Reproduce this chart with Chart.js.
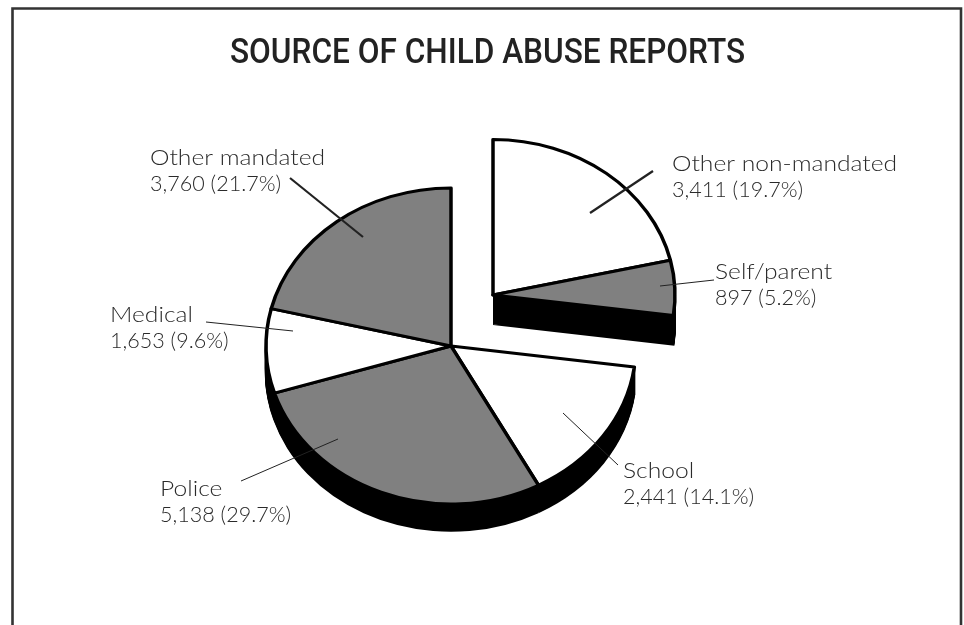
<!DOCTYPE html>
<html>
<head>
<meta charset="utf-8">
<title>Source of child abuse reports</title>
<script src="https://cdn.jsdelivr.net/npm/chart.js@4"></script>
<style>
  html, body { margin: 0; padding: 0; background: #fff; }
  canvas { display: block; }
</style>
</head>
<body>
<canvas id="chart" width="964" height="625"></canvas>
<script>
// Report counts by source, clockwise from twelve o'clock.
const sources = ['Other non-mandated', 'Self/parent', 'School', 'Police', 'Medical', 'Other mandated'];
const reports = [3411, 897, 2441, 5138, 1653, 3760];
const percentLabels = ['19.7%', '5.2%', '14.1%', '29.7%', '9.6%', '21.7%'];
const sliceColors = ['#ffffff', '#808080', '#ffffff', '#808080', '#ffffff', '#808080'];
const titleText = 'SOURCE OF CHILD ABUSE REPORTS';

// Tilted-disc geometry.
const disc = { cx: 451, cy: 346, radius: 185, squash: 0.854, depth: 27 };
const pulled = { count: 2, dx: 42, dy: -51, radius: 182, depth: 30 };

// Callout placement, in the same order as the slices.
const callouts = [
  { x: 672, y: 171, from: [590, 213], to: [653, 171], width: 2.2 },
  { x: 715, y: 279, from: [660, 286], to: [714, 280], width: 1 },
  { x: 623, y: 478, from: [563, 413], to: [618, 465], width: 1 },
  { x: 160, y: 496, from: [338, 439], to: [241, 481], width: 1 },
  { x: 110, y: 322, from: [293, 331], to: [206, 322], width: 1 },
  { x: 150, y: 165, from: [363, 237], to: [290, 178], width: 2.2 }
];
const labelFont = '300 22px Lato';
const nameStretch = 1.12;
const countStretch = 0.98;
const labelColor = '#2a2a2a';
const lineGap = 26;
const titleBox = { left: 230, right: 745, baseline: 63, font: '500 35px Roboto', color: '#222222' };

// Foreshortening of the tilted disc: slices bunch up towards the far side.
function projectAngle(angle) {
  const t = angle + Math.PI / 2;
  const deg = Math.PI / 180;
  return angle + 2.5 * deg * Math.sin(t) + 5.5 * deg * (1 - Math.cos(t));
}

function drawStretched(ctx, text, x, y, stretch) {
  ctx.save();
  ctx.translate(x, y);
  ctx.scale(stretch, 1);
  ctx.fillText(text, 0, 0);
  ctx.restore();
}

const tiltedPie = {
  id: 'tiltedPie',
  beforeDraw(chart) {
    // Page frame, open along the bottom edge.
    const { ctx, width, height } = chart;
    ctx.save();
    ctx.fillStyle = '#ffffff';
    ctx.fillRect(0, 0, width, height);
    ctx.strokeStyle = '#333333';
    ctx.lineWidth = 2.6;
    ctx.beginPath();
    ctx.moveTo(12.5, height);
    ctx.lineTo(12.5, 8.5);
    ctx.lineTo(961, 8.5);
    ctx.lineTo(961, height);
    ctx.stroke();
    // Title, condensed to its measure.
    ctx.font = titleBox.font;
    ctx.fillStyle = titleBox.color;
    ctx.textBaseline = 'alphabetic';
    const natural = ctx.measureText(titleText).width;
    drawStretched(ctx, titleText, titleBox.left, titleBox.baseline, (titleBox.right - titleBox.left) / natural);
    ctx.restore();
  },
  afterDatasetsUpdate(chart) {
    // Place the disc and pull the first two slices away as one wedge.
    chart.getDatasetMeta(0).data.forEach((arc, i) => {
      const isPulled = i < pulled.count;
      arc.x = disc.cx + (isPulled ? pulled.dx : 0);
      arc.y = disc.cy + (isPulled ? pulled.dy / disc.squash : 0);
      arc.outerRadius = isPulled ? pulled.radius : disc.radius;
      const start = projectAngle(arc.startAngle);
      const end = projectAngle(arc.endAngle);
      arc.startAngle = start;
      arc.endAngle = end;
      arc.circumference = end - start;
    });
  },
  beforeDatasetsDraw(chart) {
    const { ctx } = chart;
    ctx.save();
    ctx.translate(disc.cx, disc.cy);
    ctx.scale(1, disc.squash);
    ctx.translate(-disc.cx, -disc.cy);
    // Solid black side wall under each slice.
    ctx.fillStyle = '#000000';
    chart.getDatasetMeta(0).data.forEach((arc, i) => {
      const depth = i < pulled.count ? pulled.depth : disc.depth;
      for (let d = 1; d <= depth; d++) {
        const y = arc.y + d / disc.squash;
        ctx.beginPath();
        ctx.moveTo(arc.x, y);
        ctx.arc(arc.x, y, arc.outerRadius + 1, arc.startAngle, arc.endAngle);
        ctx.closePath();
        ctx.fill();
      }
    });
  },
  afterDatasetsDraw(chart) {
    const { ctx } = chart;
    ctx.restore();
    ctx.save();
    ctx.strokeStyle = '#222222';
    ctx.fillStyle = labelColor;
    ctx.font = labelFont;
    ctx.textBaseline = 'alphabetic';
    sources.forEach((name, i) => {
      const c = callouts[i];
      ctx.lineWidth = c.width;
      ctx.beginPath();
      ctx.moveTo(c.from[0], c.from[1]);
      ctx.lineTo(c.to[0], c.to[1]);
      ctx.stroke();
      drawStretched(ctx, name, c.x, c.y, nameStretch);
      drawStretched(ctx, reports[i].toLocaleString('en-US') + ' (' + percentLabels[i] + ')', c.x, c.y + lineGap, countStretch);
    });
    ctx.restore();
  }
};

new Chart(document.getElementById('chart'), {
  type: 'pie',
  data: {
    labels: sources,
    datasets: [{
      data: reports,
      backgroundColor: sliceColors,
      borderColor: '#000000',
      borderWidth: 3.5,
      borderJoinStyle: 'round',
      clip: false
    }]
  },
  options: {
    responsive: false,
    animation: false,
    radius: disc.radius,
    rotation: 0,
    events: [],
    plugins: {
      legend: { display: false },
      tooltip: { enabled: false },
      title: { display: false }
    }
  },
  plugins: [tiltedPie]
});
</script>
</body>
</html>
